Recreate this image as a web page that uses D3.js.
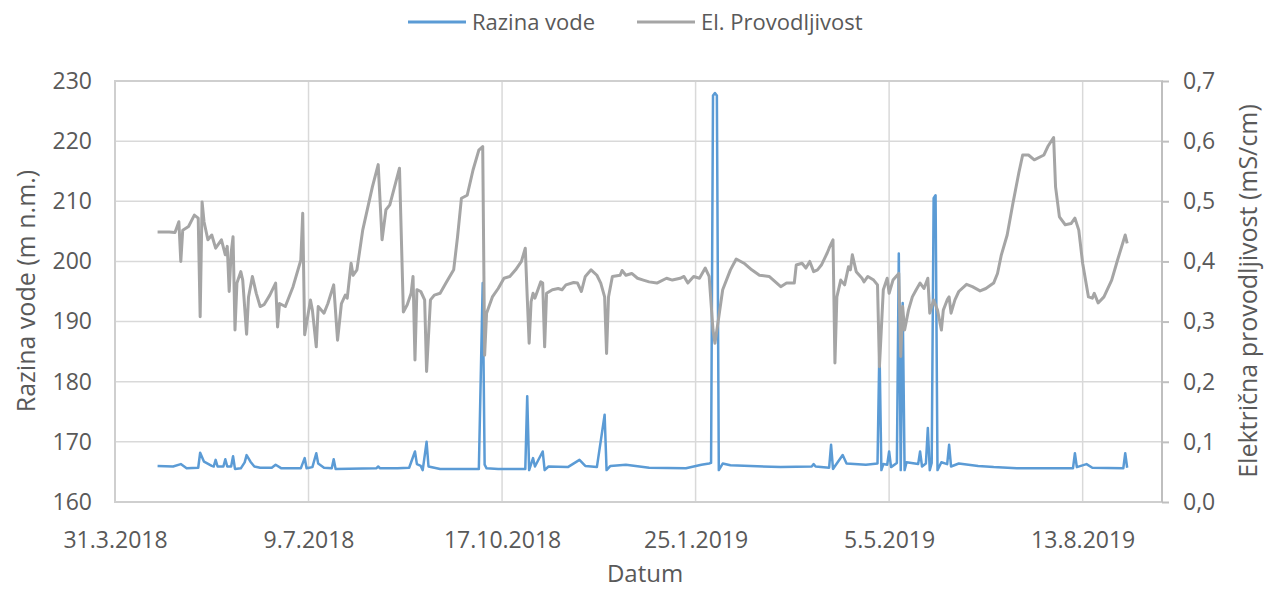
<!DOCTYPE html>
<html>
<head>
<meta charset="utf-8">
<script src="https://cdn.jsdelivr.net/npm/d3@7"></script>
<style>
  body { margin: 0; background: #fff; }
  svg text { font-family: "Open Sans", "Noto Sans", sans-serif; fill: #595959; }
</style>
</head>
<body>
<svg id="chart" width="1266" height="592"></svg>
<script>
// Razina vode (m n.m.) - lijeva os
let razinaVode = [
  ["2018-04-22",166.0],["2018-04-30",165.9],["2018-05-04",166.3],["2018-05-07",165.6],["2018-05-13",165.7],["2018-05-14",168.2],
  ["2018-05-16",166.7],["2018-05-20",166.0],["2018-05-21",165.9],["2018-05-22",167.0],["2018-05-23",165.9],["2018-05-26",165.9],
  ["2018-05-27",167.1],["2018-05-28",165.9],["2018-05-30",165.9],["2018-05-31",167.6],["2018-06-01",165.5],["2018-06-04",165.6],
  ["2018-06-06",166.6],["2018-06-07",167.8],["2018-06-09",166.7],["2018-06-11",165.9],["2018-06-14",165.7],["2018-06-20",165.7],
  ["2018-06-22",166.2],["2018-06-25",165.6],["2018-07-05",165.6],["2018-07-07",167.3],["2018-07-08",165.6],["2018-07-11",165.8],
  ["2018-07-13",168.1],["2018-07-14",166.4],["2018-07-17",165.7],["2018-07-21",165.6],["2018-07-22",167.1],["2018-07-23",165.5],
  ["2018-08-13",165.6],["2018-08-14",165.9],["2018-08-15",165.6],["2018-08-24",165.6],["2018-08-30",165.7],["2018-09-02",168.4],
  ["2018-09-03",166.3],["2018-09-05",166.0],["2018-09-06",165.3],["2018-09-08",170.0],["2018-09-09",165.9],["2018-09-15",165.5],
  ["2018-10-05",165.5],["2018-10-07",196.4],["2018-10-08",166.2],["2018-10-09",165.6],["2018-10-15",165.5],["2018-10-29",165.5],
  ["2018-10-30",177.6],["2018-10-31",165.3],["2018-11-02",167.3],["2018-11-03",165.9],["2018-11-07",168.4],["2018-11-08",165.3],
  ["2018-11-10",165.9],["2018-11-20",165.8],["2018-11-26",167.0],["2018-11-29",166.0],["2018-12-05",165.8],["2018-12-09",174.5],
  ["2018-12-10",165.3],["2018-12-12",166.0],["2018-12-20",166.2],["2019-01-01",165.7],["2019-01-20",165.6],["2019-01-28",166.2],
  ["2019-02-01",166.4],["2019-02-02",166.5],["2019-02-03",227.6],["2019-02-04",228.0],["2019-02-05",227.6],["2019-02-06",165.3],
  ["2019-02-08",166.4],["2019-02-12",166.1],["2019-03-10",165.8],["2019-03-26",165.9],["2019-03-27",166.3],["2019-03-28",165.9],
  ["2019-04-04",165.7],["2019-04-05",169.5],["2019-04-06",165.5],["2019-04-11",167.8],["2019-04-13",166.4],["2019-04-23",166.2],
  ["2019-04-29",166.4],["2019-04-30",186.1],["2019-05-01",165.3],["2019-05-02",166.3],["2019-05-04",166.2],["2019-05-05",168.4],
  ["2019-05-06",165.8],["2019-05-09",166.5],["2019-05-10",201.3],["2019-05-11",165.3],["2019-05-12",193.1],["2019-05-13",165.3],
  ["2019-05-14",166.6],["2019-05-20",166.3],["2019-05-21",168.4],["2019-05-22",165.9],["2019-05-24",166.4],["2019-05-25",172.3],
  ["2019-05-26",165.3],["2019-05-27",166.5],["2019-05-28",210.5],["2019-05-29",211.0],["2019-05-30",165.3],["2019-06-01",166.6],
  ["2019-06-04",166.3],["2019-06-05",169.5],["2019-06-06",165.9],["2019-06-10",166.4],["2019-06-20",166.0],["2019-06-28",165.8],
  ["2019-07-10",165.6],["2019-08-01",165.6],["2019-08-08",165.6],["2019-08-09",168.1],["2019-08-10",165.8],["2019-08-15",166.3],
  ["2019-08-18",165.7],["2019-09-03",165.6],["2019-09-04",168.1],["2019-09-05",165.7]
];

// El. provodljivost (mS/cm) - desna os
let provodljivost = [
  ["2018-04-22",0.449],["2018-04-28",0.449],["2018-05-01",0.448],["2018-05-03",0.466],["2018-05-04",0.400],["2018-05-05",0.452],
  ["2018-05-08",0.458],["2018-05-11",0.477],["2018-05-13",0.472],["2018-05-14",0.308],["2018-05-15",0.499],["2018-05-16",0.466],
  ["2018-05-18",0.436],["2018-05-20",0.444],["2018-05-22",0.422],["2018-05-25",0.436],["2018-05-27",0.411],["2018-05-28",0.425],
  ["2018-05-29",0.350],["2018-05-30",0.414],["2018-05-31",0.441],["2018-06-01",0.286],["2018-06-02",0.364],["2018-06-04",0.383],
  ["2018-06-05",0.369],["2018-06-07",0.279],["2018-06-08",0.341],["2018-06-10",0.375],["2018-06-12",0.347],["2018-06-14",0.325],
  ["2018-06-16",0.328],["2018-06-19",0.344],["2018-06-22",0.364],["2018-06-23",0.291],["2018-06-24",0.330],["2018-06-27",0.325],
  ["2018-07-01",0.358],["2018-07-05",0.402],["2018-07-06",0.480],["2018-07-07",0.278],["2018-07-10",0.336],["2018-07-11",0.319],
  ["2018-07-13",0.258],["2018-07-14",0.325],["2018-07-17",0.314],["2018-07-19",0.330],["2018-07-22",0.361],["2018-07-24",0.269],
  ["2018-07-26",0.330],["2018-07-28",0.344],["2018-07-29",0.339],["2018-07-31",0.397],["2018-08-01",0.377],["2018-08-03",0.386],
  ["2018-08-06",0.452],["2018-08-11",0.524],["2018-08-14",0.561],["2018-08-16",0.436],["2018-08-18",0.486],["2018-08-20",0.494],
  ["2018-08-25",0.555],["2018-08-27",0.316],["2018-08-29",0.328],["2018-08-31",0.347],["2018-09-01",0.375],["2018-09-02",0.236],
  ["2018-09-03",0.353],["2018-09-05",0.350],["2018-09-07",0.336],["2018-09-08",0.217],["2018-09-10",0.336],["2018-09-12",0.344],
  ["2018-09-15",0.347],["2018-09-18",0.364],["2018-09-22",0.386],["2018-09-24",0.441],["2018-09-26",0.505],["2018-09-29",0.510],
  ["2018-10-02",0.552],["2018-10-05",0.585],["2018-10-07",0.591],["2018-10-08",0.244],["2018-10-09",0.314],["2018-10-12",0.341],
  ["2018-10-15",0.355],["2018-10-18",0.372],["2018-10-21",0.375],["2018-10-24",0.386],["2018-10-27",0.400],["2018-10-29",0.422],
  ["2018-10-30",0.341],["2018-10-31",0.264],["2018-11-01",0.333],["2018-11-02",0.347],["2018-11-03",0.339],["2018-11-06",0.366],
  ["2018-11-07",0.364],["2018-11-08",0.258],["2018-11-09",0.347],["2018-11-12",0.353],["2018-11-15",0.355],["2018-11-17",0.353],
  ["2018-11-19",0.361],["2018-11-23",0.365],["2018-11-25",0.364],["2018-11-27",0.350],["2018-11-29",0.375],["2018-12-02",0.386],
  ["2018-12-05",0.377],["2018-12-07",0.364],["2018-12-09",0.341],["2018-12-10",0.247],["2018-12-11",0.341],["2018-12-13",0.375],
  ["2018-12-17",0.377],["2018-12-18",0.385],["2018-12-20",0.377],["2018-12-23",0.380],["2018-12-26",0.372],["2018-12-29",0.369],
  ["2019-01-01",0.366],["2019-01-05",0.364],["2019-01-10",0.372],["2019-01-13",0.369],["2019-01-17",0.372],["2019-01-19",0.375],
  ["2019-01-21",0.364],["2019-01-24",0.375],["2019-01-27",0.372],["2019-01-30",0.389],["2019-02-01",0.375],["2019-02-03",0.286],
  ["2019-02-04",0.264],["2019-02-06",0.308],["2019-02-08",0.353],["2019-02-12",0.386],["2019-02-15",0.404],["2019-02-19",0.397],
  ["2019-02-23",0.386],["2019-02-27",0.377],["2019-03-04",0.375],["2019-03-10",0.358],["2019-03-13",0.364],["2019-03-17",0.364],
  ["2019-03-18",0.394],["2019-03-21",0.397],["2019-03-23",0.389],["2019-03-25",0.400],["2019-03-27",0.383],["2019-03-29",0.386],
  ["2019-03-31",0.394],["2019-04-03",0.414],["2019-04-04",0.422],["2019-04-06",0.436],["2019-04-07",0.231],["2019-04-08",0.341],
  ["2019-04-10",0.369],["2019-04-12",0.361],["2019-04-14",0.391],["2019-04-15",0.386],["2019-04-16",0.411],["2019-04-18",0.383],
  ["2019-04-21",0.372],["2019-04-22",0.366],["2019-04-24",0.375],["2019-04-27",0.369],["2019-04-29",0.361],["2019-04-30",0.225],
  ["2019-05-02",0.353],["2019-05-04",0.372],["2019-05-05",0.347],["2019-05-07",0.369],["2019-05-10",0.380],["2019-05-11",0.242],
  ["2019-05-12",0.325],["2019-05-13",0.286],["2019-05-15",0.319],["2019-05-17",0.341],["2019-05-19",0.353],["2019-05-21",0.364],
  ["2019-05-23",0.355],["2019-05-25",0.372],["2019-05-26",0.314],["2019-05-28",0.336],["2019-05-30",0.319],["2019-06-01",0.286],
  ["2019-06-02",0.319],["2019-06-04",0.336],["2019-06-05",0.341],["2019-06-06",0.314],["2019-06-08",0.336],["2019-06-10",0.350],
  ["2019-06-14",0.362],["2019-06-17",0.358],["2019-06-21",0.351],["2019-06-24",0.355],["2019-06-28",0.364],["2019-06-30",0.380],
  ["2019-07-02",0.411],["2019-07-05",0.444],["2019-07-08",0.497],["2019-07-11",0.547],["2019-07-13",0.577],["2019-07-16",0.577],
  ["2019-07-19",0.569],["2019-07-24",0.577],["2019-07-26",0.591],["2019-07-29",0.606],["2019-07-30",0.524],["2019-08-01",0.474],
  ["2019-08-04",0.461],["2019-08-07",0.463],["2019-08-09",0.472],["2019-08-11",0.452],["2019-08-13",0.397],["2019-08-16",0.341],
  ["2019-08-18",0.339],["2019-08-19",0.347],["2019-08-21",0.331],["2019-08-24",0.341],["2019-08-28",0.369],["2019-08-31",0.402],
  ["2019-09-04",0.444],["2019-09-05",0.430]
];

let xDomain = ["2018-03-31", "2019-09-23"];
let xTicks = ["2018-03-31", "2018-07-09", "2018-10-17", "2019-01-25", "2019-05-05", "2019-08-13"];
let leftTicks = [160, 170, 180, 190, 200, 210, 220, 230];
let rightTicks = [0, 0.1, 0.2, 0.3, 0.4, 0.5, 0.6, 0.7];
let seriesNames = ["Razina vode", "El. Provodljivost"];
let seriesColors = ["#5B9BD5", "#A5A5A5"];

let parse = d3.timeParse("%Y-%m-%d");
let svg = d3.select("#chart");

let plotL = 115, plotR = 1162, plotT = 81, plotB = 502;

let x = d3.scaleTime().domain(xDomain.map(parse)).range([plotL, plotR]);
let yL = d3.scaleLinear().domain([160, 230]).range([plotB, plotT]);
let yR = d3.scaleLinear().domain([0, 0.7]).range([plotB, plotT]);

svg.append("rect").attr("width", 1266).attr("height", 592).attr("fill", "#fff");

// mreža
let grid = svg.append("g");
grid.selectAll("line.h").data(leftTicks).enter().append("line")
  .attr("x1", plotL).attr("x2", plotR)
  .attr("y1", d => yL(d)).attr("y2", d => yL(d))
  .attr("stroke", "#D9D9D9").attr("stroke-width", 1.5);
grid.selectAll("line.v").data(xTicks).enter().append("line")
  .attr("x1", d => x(parse(d))).attr("x2", d => x(parse(d)))
  .attr("y1", plotT).attr("y2", plotB)
  .attr("stroke", "#D9D9D9").attr("stroke-width", 1.5);

svg.append("rect")
  .attr("x", plotL).attr("y", plotT).attr("width", plotR - plotL).attr("height", plotB - plotT)
  .attr("fill", "none").attr("stroke", "#CFCFCF").attr("stroke-width", 2);

// osi
let fmtDate = d3.timeFormat("%-d.%-m.%Y");
let xAxis = svg.append("g").attr("transform", "translate(0," + plotB + ")")
  .call(d3.axisBottom(x).tickValues(xTicks.map(parse)).tickFormat(fmtDate).tickSize(0).tickPadding(30));

let lAxis = svg.append("g").attr("transform", "translate(" + plotL + ",0)")
  .call(d3.axisLeft(yL).tickValues(leftTicks).tickSize(0).tickPadding(23));

let rAxis = svg.append("g").attr("transform", "translate(" + plotR + ",0)")
  .call(d3.axisRight(yR).tickValues(rightTicks).tickSize(7).tickPadding(14)
    .tickFormat(d => d3.format(".1f")(d).replace(".", ",")));

[xAxis, lAxis, rAxis].forEach(a => {
  a.select(".domain").remove();
  a.selectAll("text").style("font-size", "23px").attr("fill", "#595959");
});
rAxis.selectAll(".tick line").attr("stroke", "#BFBFBF").attr("stroke-width", 2);
svg.append("line").attr("x1", plotR).attr("x2", plotR).attr("y1", plotT).attr("y2", plotB)
  .attr("stroke", "#BFBFBF").attr("stroke-width", 2);

// naslovi osi
svg.append("text").attr("x", 645).attr("y", 574).attr("text-anchor", "middle")
  .attr("dy", "0.35em").style("font-size", "24px").text("Datum");
svg.append("text").attr("transform", "translate(26,291) rotate(-90)").attr("text-anchor", "middle")
  .attr("dy", "0.35em").style("font-size", "25px").text("Razina vode (m n.m.)");
svg.append("text").attr("transform", "translate(1248,291) rotate(-90)").attr("text-anchor", "middle")
  .attr("dy", "0.35em").style("font-size", "25px").text("Električna provodljivost (mS/cm)");

// linije
let lineL = d3.line().x(d => x(parse(d[0]))).y(d => yL(d[1]));
let lineR = d3.line().x(d => x(parse(d[0]))).y(d => yR(d[1]));

svg.append("path").datum(razinaVode).attr("d", lineL)
  .attr("fill", "none").attr("stroke", seriesColors[0]).attr("stroke-width", 2.5)
  .attr("stroke-linejoin", "round");
svg.append("path").datum(provodljivost).attr("d", lineR)
  .attr("fill", "none").attr("stroke", seriesColors[1]).attr("stroke-width", 3)
  .attr("stroke-linejoin", "round");

// legenda
let legX = [408, 637];
let leg = svg.append("g").selectAll("g").data(seriesNames).enter().append("g")
  .attr("transform", (d, i) => "translate(" + legX[i] + ",22)");
leg.append("line").attr("x1", 0).attr("x2", 58).attr("y1", 0).attr("y2", 0)
  .attr("stroke", (d, i) => seriesColors[i]).attr("stroke-width", 3);
leg.append("text").attr("x", 64).attr("dy", "0.35em").style("font-size", "22px").text(d => d);
</script>
</body>
</html>
